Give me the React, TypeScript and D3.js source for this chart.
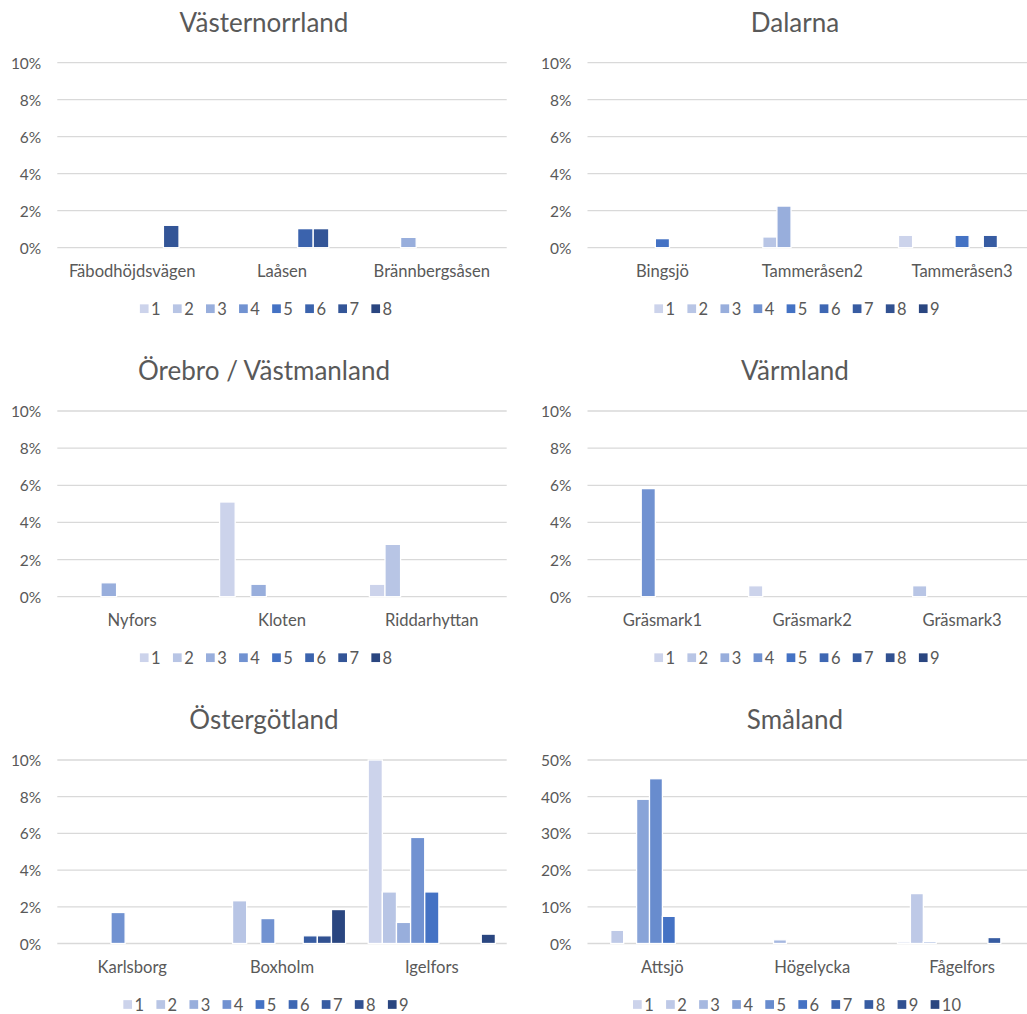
import React from "react";
import * as d3 from "d3";

// Series labels (legend entries) for the different panel sizes
const seriesLabels8 = ["1", "2", "3", "4", "5", "6", "7", "8"];
const seriesLabels9 = ["1", "2", "3", "4", "5", "6", "7", "8", "9"];
const seriesLabels10 = ["1", "2", "3", "4", "5", "6", "7", "8", "9", "10"];

// Y-axis ticks (percent)
const pctTicks10 = [0, 2, 4, 6, 8, 10];
const pctTicks50 = [0, 10, 20, 30, 40, 50];

// Västernorrland — rows are series 1..8, columns follow the categories
const vnCategories = ["Fäbodhöjdsvägen", "Laåsen", "Brännbergsåsen"];
const vnValues = [
  [0, 0, 0],
  [0, 0, 0],
  [0, 0, 0.56],
  [0, 0, 0],
  [0, 0, 0],
  [0, 1.03, 0],
  [1.21, 1.03, 0],
  [0, 0, 0],
];

// Dalarna — series 1..9
const daCategories = ["Bingsjö", "Tammeråsen2", "Tammeråsen3"];
const daValues = [
  [0, 0, 0.67],
  [0, 0.58, 0],
  [0, 2.25, 0],
  [0, 0, 0],
  [0.49, 0, 0.67],
  [0, 0, 0],
  [0, 0, 0.67],
  [0, 0, 0],
  [0, 0, 0],
];

// Örebro / Västmanland — series 1..8
const obCategories = ["Nyfors", "Kloten", "Riddarhyttan"];
const obValues = [
  [0, 5.1, 0.67],
  [0, 0, 2.82],
  [0.75, 0.67, 0],
  [0, 0, 0],
  [0, 0, 0],
  [0, 0, 0],
  [0, 0, 0],
  [0, 0, 0],
];

// Värmland — series 1..9
const vmCategories = ["Gräsmark1", "Gräsmark2", "Gräsmark3"];
const vmValues = [
  [0, 0.59, 0],
  [0, 0, 0.59],
  [0, 0, 0],
  [5.82, 0, 0],
  [0, 0, 0],
  [0, 0, 0],
  [0, 0, 0],
  [0, 0, 0],
  [0, 0, 0],
];

// Östergötland — series 1..9
const ogCategories = ["Karlsborg", "Boxholm", "Igelfors"];
const ogValues = [
  [0, 0, 10.0],
  [0, 2.33, 2.81],
  [0, 0, 1.15],
  [1.69, 1.36, 5.78],
  [0, 0, 2.81],
  [0, 0, 0],
  [0, 0.42, 0],
  [0, 0.42, 0],
  [0, 1.85, 0.51],
];

// Småland — series 1..10
const smCategories = ["Attsjö", "Högelycka", "Fågelfors"];
const smValues = [
  [0, 0, 0.45],
  [3.6, 0, 13.6],
  [0, 1.0, 0.5],
  [39.3, 0, 0],
  [44.9, 0, 0],
  [7.4, 0, 0],
  [0, 0, 0],
  [0, 0, 1.63],
  [0, 0, 0],
  [0, 0, 0],
];

type Panel = {
  title: string;
  categories: string[];
  values: number[][];
  labels: string[];
  ticks: number[];
};

const panels: Panel[] = [
  { title: "Västernorrland", categories: vnCategories, values: vnValues, labels: seriesLabels8, ticks: pctTicks10 },
  { title: "Dalarna", categories: daCategories, values: daValues, labels: seriesLabels9, ticks: pctTicks10 },
  { title: "Örebro / Västmanland", categories: obCategories, values: obValues, labels: seriesLabels8, ticks: pctTicks10 },
  { title: "Värmland", categories: vmCategories, values: vmValues, labels: seriesLabels9, ticks: pctTicks10 },
  { title: "Östergötland", categories: ogCategories, values: ogValues, labels: seriesLabels9, ticks: pctTicks10 },
  { title: "Småland", categories: smCategories, values: smValues, labels: seriesLabels10, ticks: pctTicks50 },
];

// Grid geometry
const COLS = [
  { left: 57.3, right: 506.7, center: 264 },
  { left: 587.5, right: 1037, center: 795 },
];
const ROWS = [
  { top: 62.7, bottom: 247.7 },
  { top: 411, bottom: 596.7 },
  { top: 760, bottom: 943.5 },
];

const TEXT = "#595959";
const GRID = "#D9D9D9";

// Monochromatic blue ramp: light tints up to the accent, then darker shades
function bluePalette(n: number): string[] {
  const light = "#CCD3EB";
  const mid = "#4472C4";
  const dark = "#2A4680";
  const m = Math.floor(n / 2);
  return d3.range(n).map((i) => {
    if (i <= m) return d3.interpolateRgb(light, mid)(Math.pow(i / m, 1.4));
    return d3.interpolateRgb(mid, dark)((i - m) / (n - 1 - m));
  });
}

function ChartPanel({ panel, col, row }: { panel: Panel; col: number; row: number }) {
  const { left, right, center } = COLS[col];
  const { top, bottom } = ROWS[row];
  const colors = bluePalette(panel.labels.length);

  const x = d3.scaleBand<string>().domain(panel.categories).range([left, right]).padding(0);
  const xs = d3
    .scaleBand<string>()
    .domain(panel.labels)
    .range([0, x.bandwidth()])
    .paddingInner(0)
    .paddingOuter(0.8);
  const yMax = panel.ticks[panel.ticks.length - 1];
  const y = d3.scaleLinear().domain([0, yMax]).range([bottom, top]);

  // Legend layout
  const legendFont = 16.5;
  const digitW = legendFont * 0.58;
  const sq = 8.7;
  const itemGap = 12.3;
  const itemWidths = panel.labels.map((l) => sq + 2.5 + l.length * digitW);
  const totalW = d3.sum(itemWidths) + itemGap * (panel.labels.length - 1);
  let lx = center + 2 - totalW / 2;
  const legendY = bottom + 61;
  const legendItems = panel.labels.map((l, i) => {
    const x0 = lx;
    lx += itemWidths[i] + itemGap;
    return (
      <g key={l}>
        <rect x={x0} y={legendY - sq / 2} width={sq} height={sq} fill={colors[i]} />
        <text x={x0 + sq + 2.5} y={legendY} dominantBaseline="central" fontSize={legendFont} fill={TEXT}>
          {l}
        </text>
      </g>
    );
  });

  return (
    <g>
      <text x={center} y={top - 41} textAnchor="middle" dominantBaseline="central" fontSize={26} fill={TEXT}>
        {panel.title}
      </text>
      {panel.ticks.map((t) => (
        <g key={t}>
          <line x1={left} x2={right} y1={y(t)} y2={y(t)} stroke={GRID} strokeWidth={1.3} />
          <text x={left - 16} y={y(t)} textAnchor="end" dominantBaseline="central" fontSize={15.5} fill={TEXT}>
            {t}%
          </text>
        </g>
      ))}
      {panel.values.map((series, j) =>
        series.map((v, k) =>
          v > 0 ? (
            <rect
              key={`${j}-${k}`}
              x={(x(panel.categories[k]) as number) + (xs(panel.labels[j]) as number)}
              y={y(v)}
              width={xs.bandwidth()}
              height={bottom - y(v)}
              fill={colors[j]}
              stroke="#fff"
              strokeWidth={1.3}
            />
          ) : null
        )
      )}
      {panel.categories.map((c) => (
        <text
          key={c}
          x={(x(c) as number) + x.bandwidth() / 2}
          y={bottom + 23}
          textAnchor="middle"
          dominantBaseline="central"
          fontSize={16.6}
          fill={TEXT}
        >
          {c}
        </text>
      ))}
      {legendItems}
    </g>
  );
}

export default function App() {
  return (
    <svg
      width={1027}
      height={1014}
      style={{ position: "absolute", left: 0, top: 0, background: "#fff" }}
      fontFamily="Lato, 'Liberation Sans', sans-serif"
    >
      <rect width={1027} height={1014} fill="#fff" />
      {panels.map((p, i) => (
        <ChartPanel key={p.title} panel={p} col={i % 2} row={Math.floor(i / 2)} />
      ))}
    </svg>
  );
}
